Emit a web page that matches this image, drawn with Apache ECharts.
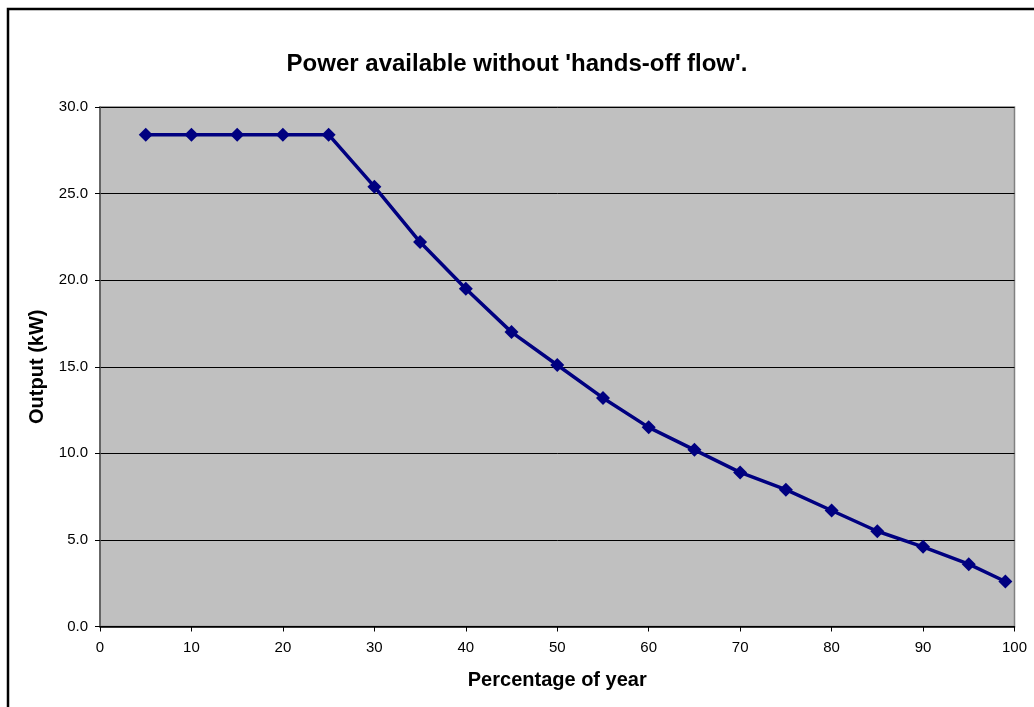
<!DOCTYPE html>
<html>
<head>
<meta charset="utf-8">
<script src="https://cdn.jsdelivr.net/npm/echarts@6/dist/echarts.min.js"></script>
<style>html,body{margin:0;padding:0;background:#fff;}#c{width:1034px;height:707px;}</style>
</head>
<body>
<div id="c"></div>
<script>
var titleText = "Power available without 'hands-off flow'.";
var xName = "Percentage of year";
var yName = "Output (kW)";
var percent = [5, 10, 15, 20, 25, 30, 35, 40, 45, 50, 55, 60, 65, 70, 75, 80, 85, 90, 95, 99];
var outputKW = [28.4, 28.4, 28.4, 28.4, 28.4, 25.4, 22.2, 19.5, 17.0, 15.1, 13.2, 11.5, 10.2, 8.9, 7.9, 6.7, 5.5, 4.6, 3.6, 2.6];

var chart = echarts.init(document.getElementById('c'));
var pts = percent.map(function (p, i) { return [p, outputKW[i]]; });
chart.setOption({
  animation: false,
  backgroundColor: '#ffffff',
  textStyle: { fontFamily: 'Liberation Sans, Arial, sans-serif' },
  graphic: [{
    type: 'rect', silent: true, z: -10,
    shape: { x: 8, y: 9, width: 1040, height: 720 },
    style: { fill: 'none', stroke: '#000', lineWidth: 2.5 }
  }],
  title: {
    text: titleText, left: 'center', top: 47,
    textStyle: { fontSize: 24, fontWeight: 'bold', color: '#000', fontFamily: 'Liberation Sans, Arial, sans-serif' }
  },
  grid: { left: 100, right: 19.5, top: 107, bottom: 80.5, show: true, backgroundColor: '#c0c0c0', borderColor: '#808080', borderWidth: 1.5 },
  xAxis: {
    type: 'value', min: 0, max: 100, interval: 10,
    name: xName, nameLocation: 'middle', nameGap: 44,
    nameTextStyle: { fontSize: 20, fontWeight: 'bold', color: '#000' },
    axisLine: { show: true, onZero: false, lineStyle: { color: '#000', width: 1.5 } },
    axisTick: { show: true, length: 5, lineStyle: { color: '#000' } },
    axisLabel: { fontSize: 15, color: '#000', margin: 14 },
    splitLine: { show: false }
  },
  yAxis: {
    type: 'value', min: 0, max: 30, interval: 5,
    name: yName, nameLocation: 'middle', nameGap: 49,
    nameTextStyle: { fontSize: 20, fontWeight: 'bold', color: '#000' },
    axisLine: { show: true, lineStyle: { color: '#555', width: 1.5 } },
    axisTick: { show: true, length: 5, lineStyle: { color: '#000' } },
    axisLabel: { fontSize: 15, color: '#000', margin: 12, formatter: function (v) { return v.toFixed(1); } },
    splitLine: { show: true, lineStyle: { color: '#000', width: 1 } }
  },
  series: [{
    type: 'line', data: pts,
    symbol: 'diamond', symbolSize: 14,
    lineStyle: { color: '#000080', width: 3.5 },
    itemStyle: { color: '#000080' }
  }]
});
</script>
</body>
</html>
